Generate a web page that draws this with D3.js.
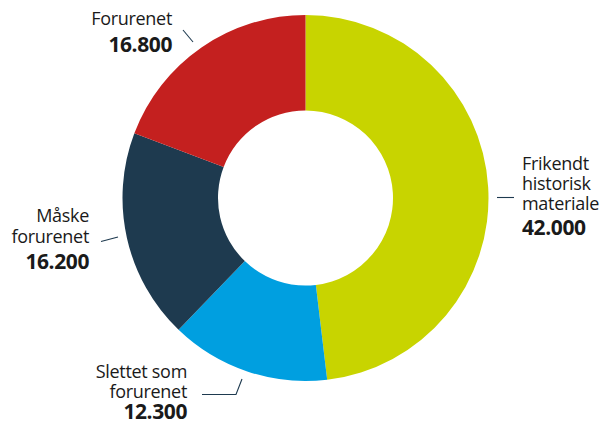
<!DOCTYPE html>
<html><head><meta charset="utf-8">
<script src="https://cdn.jsdelivr.net/npm/d3@7"></script>
<style>body{margin:0;background:#fff}svg{display:block}</style>
</head><body>
<svg id="c" width="602" height="424"></svg>
<script>
const categories = ["Frikendt historisk materiale", "Slettet som forurenet", "Måske forurenet", "Forurenet"];
const values = [42000, 12300, 16200, 16800];
const valueLabels = ["42.000", "12.300", "16.200", "16.800"];
const colors = ["#c8d400", "#009fe0", "#1e3a4f", "#c4201f"];
const labelLines = [["Frikendt", "historisk", "materiale"], ["Slettet som", "forurenet"], ["Måske", "forurenet"], ["Forurenet"]];

const svg = d3.select("#c");
const cx = 305.5, cy = 198, R = 183, r = 87.5;
const g = svg.append("g").attr("transform", `translate(${cx},${cy})`);
const pie = d3.pie().sort(null).value(d => d)(values);
const arc = d3.arc().innerRadius(r).outerRadius(R);
g.selectAll("path").data(pie).join("path").attr("d", arc).attr("fill", (d, i) => colors[i]);

const font = "'Open Sans', sans-serif";
const layout = [
  {x: 522, ys: [170, 190, 210], ny: 235, anchor: "start", line: [[497,197.5],[514,197.5]]},
  {x: 187, ys: [378, 397.5], ny: 419, anchor: "end", line: [[202,394.5],[236,394.5],[242,379]]},
  {x: 89, ys: [222, 242.5], ny: 269, anchor: "end", line: [[101,241.5],[118,237]]},
  {x: 172, ys: [25], ny: 52, anchor: "end", line: [[183,30],[193,42]]}
];
layout.forEach((L, i) => {
  const t = svg.append("text").attr("text-anchor", L.anchor).attr("font-family", font).attr("fill", "#1a1a1a");
  labelLines[i].forEach((s, j) => {
    t.append("tspan").attr("x", L.x).attr("y", L.ys[j]).attr("font-size", 18).attr("letter-spacing", -0.3).text(s);
  });
  t.append("tspan").attr("x", L.x).attr("y", L.ny)
    .attr("font-size", 21).attr("font-weight", 700).attr("letter-spacing", -0.4).text(valueLabels[i]);
  svg.append("path").attr("d", d3.line()(L.line)).attr("fill", "none").attr("stroke", "#1e3a4f").attr("stroke-width", 1.1);
});
</script>
</body></html>
